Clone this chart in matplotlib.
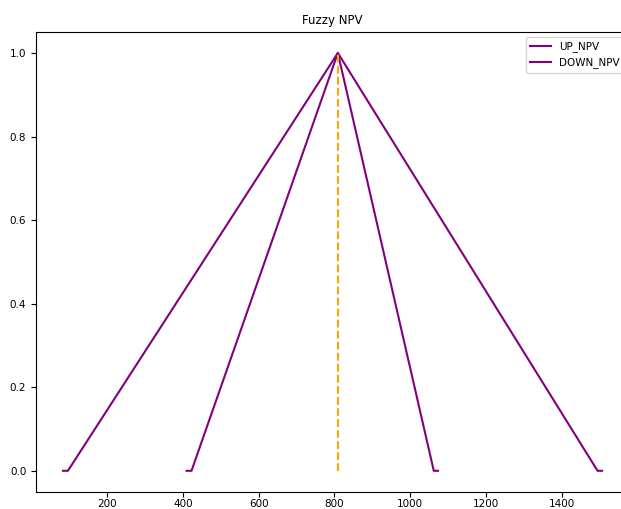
import matplotlib
matplotlib.use('Agg')
import matplotlib.pyplot as plt

# fuzzy NPV membership
up_npv_x = [84, 97, 809, 1494, 1506]
up_npv_y = [0, 0, 1, 0, 0]
down_npv_x = [410, 423, 809, 1062, 1073]
down_npv_y = [0, 0, 1, 0, 0]
crisp_npv = 809

fig = plt.figure(figsize=(6.21, 5.09), dpi=100)
ax = fig.add_axes([0.058, 0.034, 0.955, 0.903])

ax.plot(up_npv_x, up_npv_y, color='purple', label='UP_NPV')
ax.plot(down_npv_x, down_npv_y, color='purple', label='DOWN_NPV')
ax.plot([crisp_npv, crisp_npv], [0, 1], color='orange', linestyle='--')

ax.set_title('Fuzzy NPV', fontsize=8.5)
ax.set_xticks([200, 400, 600, 800, 1000, 1200, 1400])
ax.set_yticks([0.0, 0.2, 0.4, 0.6, 0.8, 1.0])
ax.tick_params(labelsize=7.5)
ax.tick_params(axis='x', pad=2)
ax.legend(loc='upper right', fontsize=7.5)

plt.savefig('out.png', dpi=100)
